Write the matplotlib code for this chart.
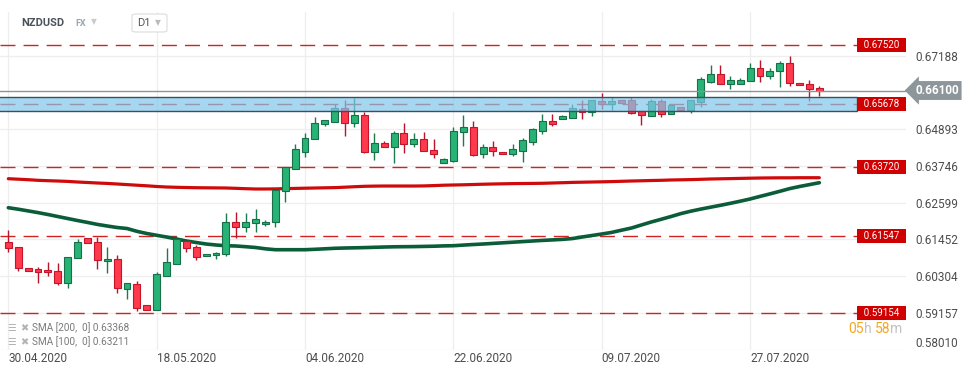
import numpy as np
import matplotlib.pyplot as plt
import matplotlib.transforms as mtransforms
from matplotlib.patches import Rectangle, FancyBboxPatch

plt.rcParams['font.family'] = ['Roboto', 'DejaVu Sans']

# NZDUSD daily bars (xStation style, sunday bars included), 30.04.2020 - 04.08.2020
opens = [0.61362, 0.61206, 0.60551, 0.60529, 0.60498, 0.60466, 0.60082, 0.60863, 0.61487, 0.61362,
         0.60769, 0.60832, 0.59895, 0.60051, 0.59396, 0.59240, 0.60320, 0.60675, 0.61412, 0.61206,
         0.60925, 0.60956, 0.60988, 0.61986, 0.61830, 0.61955, 0.61924, 0.61986, 0.62963, 0.63640,
         0.64190, 0.64577, 0.65045, 0.65126, 0.65544, 0.65076, 0.65335, 0.64190, 0.64452, 0.64327,
         0.64764, 0.64421, 0.64577, 0.64234, 0.63828, 0.63909, 0.64795, 0.64951, 0.64109, 0.64327,
         0.64171, 0.64109, 0.64221, 0.64502, 0.64845, 0.65148, 0.65220, 0.65251, 0.65523, 0.65438,
         0.65772, 0.65694, 0.65794, 0.65794, 0.65460, 0.65313, 0.65772, 0.65357, 0.65576, 0.65482,
         0.65750, 0.66375, 0.66606, 0.66293, 0.66293, 0.66387, 0.66793, 0.66543, 0.66709, 0.66949,
         0.66325, 0.66293, 0.66169]
highs = [0.61746, 0.61206, 0.60551, 0.60600, 0.60747, 0.60707, 0.60894, 0.61456, 0.61487, 0.61537,
         0.61206, 0.60956, 0.60082, 0.60154, 0.59396, 0.60435, 0.61175, 0.61559, 0.61412, 0.61278,
         0.60997, 0.61069, 0.62267, 0.62298, 0.62267, 0.62401, 0.62058, 0.62994, 0.63703, 0.64430,
         0.64783, 0.65263, 0.65170, 0.65679, 0.65803, 0.65875, 0.65420, 0.64783, 0.64524, 0.64836,
         0.65095, 0.64773, 0.64795, 0.64586, 0.63993, 0.64951, 0.65326, 0.65148, 0.64421, 0.64524,
         0.64171, 0.64421, 0.64608, 0.64939, 0.65357, 0.65357, 0.65335, 0.65679, 0.65803, 0.65803,
         0.66031, 0.65906, 0.65794, 0.65906, 0.65460, 0.65835, 0.65825, 0.65647, 0.65576, 0.65794,
         0.66531, 0.66896, 0.66896, 0.66552, 0.66481, 0.66949, 0.67052, 0.66793, 0.67030, 0.67177,
         0.66325, 0.66428, 0.66240]
lows = [0.61069, 0.60476, 0.60476, 0.60082, 0.60320, 0.60039, 0.59945, 0.60863, 0.61331, 0.60538,
        0.60413, 0.59789, 0.59583, 0.59208, 0.59249, 0.59240, 0.60320, 0.60675, 0.61069, 0.60810,
        0.60925, 0.60850, 0.60944, 0.61512, 0.61693, 0.61693, 0.61880, 0.61849, 0.62629, 0.63640,
        0.64034, 0.64577, 0.65001, 0.65126, 0.64689, 0.64970, 0.64140, 0.63931, 0.64327, 0.63828,
        0.64140, 0.64327, 0.64212, 0.64003, 0.63828, 0.63859, 0.64377, 0.64056, 0.64003, 0.64056,
        0.64109, 0.64065, 0.63878, 0.64399, 0.64742, 0.65001, 0.65220, 0.65251, 0.65220, 0.65304,
        0.65523, 0.65491, 0.65679, 0.65376, 0.65023, 0.65313, 0.65282, 0.65357, 0.65491, 0.65398,
        0.65594, 0.66343, 0.66293, 0.66156, 0.66293, 0.66387, 0.66356, 0.66450, 0.66219, 0.66250,
        0.66262, 0.65782, 0.65928]
closes = [0.61175, 0.60551, 0.60476, 0.60444, 0.60426, 0.60082, 0.60894, 0.61362, 0.61331, 0.60800,
          0.60832, 0.59926, 0.60082, 0.59302, 0.59249, 0.60363, 0.60738, 0.61456, 0.61175, 0.60913,
          0.60997, 0.61019, 0.61986, 0.61830, 0.61986, 0.62080, 0.62005, 0.62994, 0.63703, 0.64265,
          0.64608, 0.65076, 0.65170, 0.65544, 0.65076, 0.65335, 0.64190, 0.64452, 0.64327, 0.64764,
          0.64421, 0.64577, 0.64212, 0.64109, 0.63953, 0.64827, 0.64951, 0.64087, 0.64327, 0.64202,
          0.64109, 0.64265, 0.64546, 0.64889, 0.65148, 0.65064, 0.65304, 0.65544, 0.65438, 0.65803,
          0.65688, 0.65772, 0.65719, 0.65407, 0.65326, 0.65772, 0.65357, 0.65647, 0.65491, 0.65794,
          0.66450, 0.66606, 0.66293, 0.66418, 0.66418, 0.66793, 0.66543, 0.66718, 0.66949, 0.66325,
          0.66262, 0.66137, 0.66100]

sma200 = [0.63347, 0.63332, 0.63316, 0.63297, 0.63285, 0.63275, 0.63263, 0.63244, 0.63229, 0.63213,
          0.63200, 0.63182, 0.63163, 0.63144, 0.63126, 0.63104, 0.63088, 0.63079, 0.63072, 0.63066,
          0.63063, 0.63060, 0.63057, 0.63047, 0.63035, 0.63026, 0.63026, 0.63029, 0.63038, 0.63044,
          0.63051, 0.63057, 0.63063, 0.63069, 0.63082, 0.63097, 0.63110, 0.63116, 0.63119, 0.63119,
          0.63119, 0.63119, 0.63122, 0.63132, 0.63144, 0.63151, 0.63157, 0.63166, 0.63175, 0.63182,
          0.63188, 0.63194, 0.63197, 0.63200, 0.63204, 0.63213, 0.63222, 0.63232, 0.63238, 0.63244,
          0.63250, 0.63257, 0.63266, 0.63275, 0.63282, 0.63291, 0.63297, 0.63307, 0.63313, 0.63319,
          0.63328, 0.63338, 0.63344, 0.63350, 0.63357, 0.63363, 0.63369, 0.63372, 0.63375, 0.63375,
          0.63378, 0.63378, 0.63378]
sma100 = [0.62442, 0.62395, 0.62342, 0.62289, 0.62230, 0.62167, 0.62105, 0.62042, 0.61983, 0.61921,
          0.61871, 0.61824, 0.61793, 0.61705, 0.61637, 0.61581, 0.61527, 0.61465, 0.61403, 0.61356,
          0.61309, 0.61278, 0.61256, 0.61247, 0.61225, 0.61200, 0.61159, 0.61131, 0.61131, 0.61131,
          0.61131, 0.61144, 0.61159, 0.61175, 0.61184, 0.61190, 0.61197, 0.61206, 0.61215, 0.61222,
          0.61225, 0.61228, 0.61234, 0.61240, 0.61250, 0.61256, 0.61275, 0.61293, 0.61309, 0.61328,
          0.61346, 0.61365, 0.61384, 0.61403, 0.61421, 0.61437, 0.61453, 0.61478, 0.61527, 0.61574,
          0.61621, 0.61671, 0.61740, 0.61808, 0.61902, 0.61996, 0.62080, 0.62167, 0.62258, 0.62333,
          0.62398, 0.62458, 0.62517, 0.62579, 0.62645, 0.62714, 0.62795, 0.62873, 0.62954, 0.63038,
          0.63104, 0.63163, 0.63222]
sma_legend = [("SMA [200,  0]", 0.63368), ("SMA [100,  0]", 0.63211)]

date_ticks = [0, 15, 30, 45, 60, 75]
date_labels = ["30.04.2020", "18.05.2020", "04.06.2020", "22.06.2020", "09.07.2020", "27.07.2020"]
price_ticks = [0.58010, 0.59157, 0.60304, 0.61452, 0.62599, 0.63746, 0.64893, 0.67188]
levels = [0.67520, 0.65678, 0.63720, 0.61547, 0.59154]
zone_low, zone_high = 0.65475, 0.65900
last_price = 0.66100

W, H = 974, 375
fig = plt.figure(figsize=(W / 100, H / 100), dpi=100)
ax = fig.add_axes([0, 25 / H, 906 / W, 338 / H])

o = np.array(opens)
c = np.array(closes)
x = np.arange(len(o))
up = c >= o

# wicks + bodies
wick_col = np.where(up, '#1d7a4f', '#b8142a')
ax.vlines(x, lows, highs, colors=wick_col, lw=1.0, zorder=3)
ax.bar(x, np.abs(c - o), bottom=np.minimum(o, c), width=0.7,
       color=np.where(up, '#27b276', '#fe3a4c'),
       edgecolor=np.where(up, '#177048', '#c4152b'), linewidth=0.8, zorder=3.5)

# moving averages
ax.plot(x, sma200, color='#cf0a0a', lw=2.3, zorder=3.2, solid_capstyle='round')
ax.plot(x, sma100, color='#0b5d39', lw=2.6, zorder=3.2, solid_capstyle='round')

trans = mtransforms.blended_transform_factory(ax.transAxes, ax.transData)
xr = 857 / 906

for lvl in levels:
    ax.axhline(lvl, xmin=0, xmax=xr, color='#d42222', lw=1.0, dashes=(10.8, 5.8), zorder=2)
    ax.text((857 + 906) / 2 / 906, lvl, '  %.5f  ' % lvl, transform=trans, ha='center', va='center',
            color='white', fontsize=7, zorder=10,
            bbox=dict(boxstyle='square,pad=0.2', fc='#d10000', ec='none'))

# support / resistance zone
ax.add_patch(Rectangle((-0.01, zone_low), xr + 0.01, zone_high - zone_low, transform=trans,
                       fc=(0.50, 0.78, 0.92, 0.7), ec='#3f4e5a', lw=1.0, zorder=6))

# current price
ax.axhline(last_price, color='#8a959b', lw=1.0, zorder=4)
ax.text(915 / 906, last_price, '%.5f' % last_price, transform=trans, ha='left', va='center',
        color='white', fontsize=8.5, fontweight='bold', zorder=10, clip_on=False,
        bbox=dict(boxstyle='larrow,pad=0.25', fc='#8c969b', ec='none'))

ax.set_xlim(-0.84, 90.76)
ax.set_ylim(0.58001, 0.68550)
ax.set_xticks(date_ticks)
ax.set_xticklabels(date_labels)
for lab in ax.get_xticklabels():
    lab.set_horizontalalignment('left')
ax.yaxis.tick_right()
ax.set_yticks(price_ticks)
ax.set_yticklabels(['%.5f' % p for p in price_ticks])
ax.get_yticklabels()[0].set_verticalalignment('bottom')
ax.tick_params(axis='y', length=0, pad=6.5, labelsize=8.5, labelcolor='#4d4d4d')
ax.tick_params(axis='x', length=0, pad=1.5, labelsize=8.5, labelcolor='#4d4d4d')
ax.grid(True, color='#eeeeee', lw=0.9)
ax.set_axisbelow(True)
for s in ax.spines.values():
    s.set_visible(False)

# countdown
t1 = ax.text(848 / 906, 21 / 338, '05', transform=ax.transAxes, ha='left', va='center',
             color='#f5a623', fontsize=10, zorder=10)
t2 = ax.annotate('h ', xy=(1, 0), xycoords=t1, va='bottom', color='#c2c2c2', fontsize=10, zorder=10)
t3 = ax.annotate('58', xy=(1, 0), xycoords=t2, va='bottom', color='#f5a623', fontsize=10, zorder=10)
ax.annotate('m', xy=(1, 0), xycoords=t3, va='bottom', color='#c2c2c2', fontsize=10, zorder=10)


def px(xp, yp):
    return xp / W, 1 - yp / H


# header
fig.text(*px(21, 23), 'NZDUSD', fontsize=8, fontweight='bold', color='#4a5259', va='center')
fig.text(*px(75, 24), 'FX', fontsize=6.5, fontweight='bold', color='#98a6b3', va='center')
fig.text(*px(91, 22), '▼', fontsize=5.5, color='#c8ccd0', va='center')
fig.patches.append(FancyBboxPatch(px(132, 32), 35 / W, 18 / H, boxstyle='round,pad=0,rounding_size=0.004',
                                  transform=fig.transFigure, fc='white', ec='#dcdcdc', lw=0.8, zorder=5))
fig.text(*px(137, 23), 'D1', fontsize=8, color='#555555', va='center', zorder=6)
fig.text(*px(155, 23), '▼', fontsize=5.5, color='#bbbbbb', va='center', zorder=6)

# sma legend
for yy, (name, val) in zip([328, 342], sma_legend):
    fig.text(*px(7, yy), '☰', fontsize=7, color='#b3b3b3', va='center', family=['DejaVu Sans'])
    fig.text(*px(20, yy), '✖', fontsize=7, color='#b3b3b3', va='center', family=['DejaVu Sans'])
    fig.text(*px(32, yy), '%s %.5f' % (name, val), fontsize=7.2, color='#7a7a7a', va='center')

fig.savefig('out.png', dpi=100, facecolor='white')
